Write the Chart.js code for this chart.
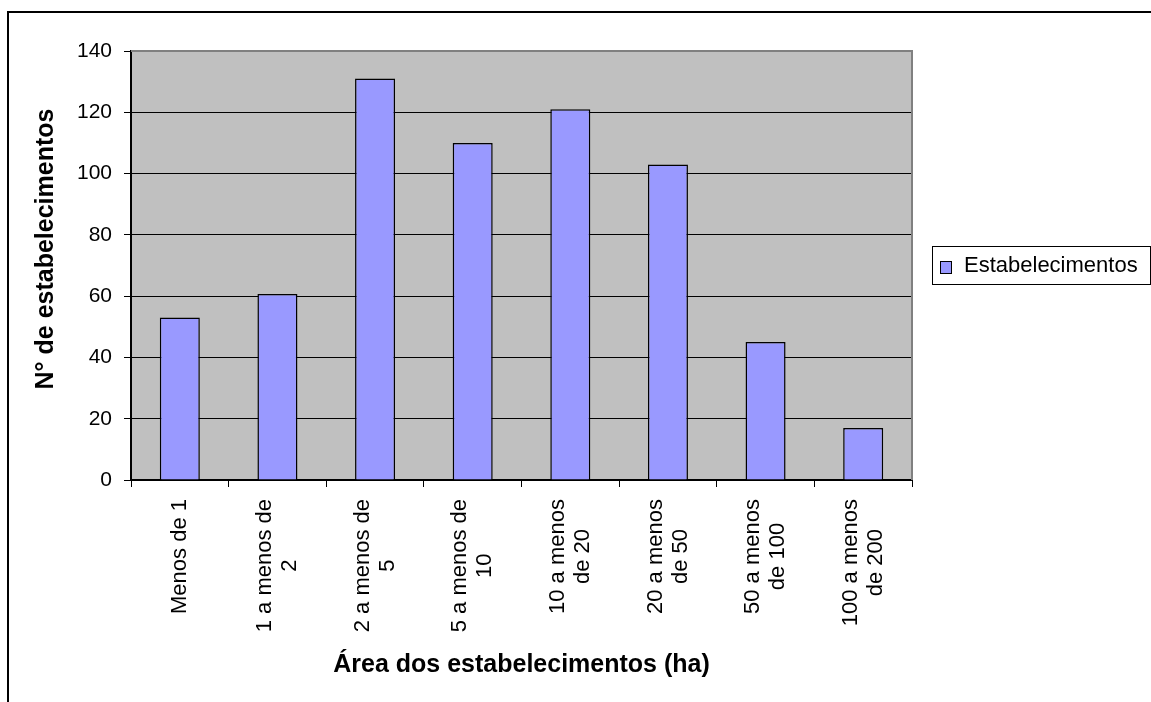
<!DOCTYPE html>
<html>
<head>
<meta charset="utf-8">
<script src="https://cdn.jsdelivr.net/npm/chart.js@4/dist/chart.umd.min.js"></script>
<style>
  html, body { margin: 0; padding: 0; background: #fff; }
  #wrap { position: relative; width: 1151px; height: 702px; }
</style>
</head>
<body>
<div id="wrap"><canvas id="c"></canvas></div>
<script>
const categories = [
  ["Menos de 1"],
  ["1 a menos de", "2"],
  ["2 a menos de", "5"],
  ["5 a menos de", "10"],
  ["10 a menos", "de 20"],
  ["20 a menos", "de 50"],
  ["50 a menos", "de 100"],
  ["100 a menos", "de 200"]
];
const seriesName = "Estabelecimentos";
const values = [53, 60.7, 131, 110, 121, 103, 45, 17];
const yTicks = [0, 20, 40, 60, 80, 100, 120, 140];
const xTitle = "Área dos estabelecimentos (ha)";
const yTitle = "N° de estabelecimentos";

const FONT = "'Liberation Sans', Arial, sans-serif";
const TICK_SIZE = 21;
const XLABEL_SIZE = 22;
const TITLE_SIZE = 25;

const decor = {
  id: 'decor',
  beforeDraw(chart) {
    const {ctx, chartArea: a} = chart;
    ctx.save();
    ctx.fillStyle = '#C0C0C0';
    ctx.fillRect(a.left, a.top, a.right - a.left, a.bottom - a.top);
    ctx.restore();
  },
  beforeDatasetsDraw(chart) {
    const {ctx, chartArea: a} = chart;
    ctx.save();
    ctx.strokeStyle = '#808080';
    ctx.lineWidth = 2;
    ctx.beginPath();
    ctx.moveTo(a.left, a.top);
    ctx.lineTo(a.right, a.top);
    ctx.lineTo(a.right, a.bottom);
    ctx.stroke();
    ctx.restore();
  },
  afterDraw(chart) {
    const {ctx} = chart;
    const xs = chart.scales.x;
    // x tick labels: rotated, lines centred on each other
    ctx.save();
    ctx.font = XLABEL_SIZE + 'px ' + FONT;
    ctx.fillStyle = '#000';
    ctx.textAlign = 'center';
    ctx.textBaseline = 'middle';
    const lineH = 25;
    const topY = 499;
    chart.data.labels.forEach((lines, i) => {
      const px = xs.getPixelForValue(i);
      const maxW = Math.max(...lines.map(l => ctx.measureText(l).width));
      ctx.save();
      ctx.translate(px, topY);
      ctx.rotate(-Math.PI / 2);
      lines.forEach((l, j) => {
        ctx.fillText(l, -maxW / 2, (j - (lines.length - 1) / 2) * lineH);
      });
      ctx.restore();
    });
    ctx.restore();

    // y axis title
    ctx.save();
    ctx.font = 'bold ' + TITLE_SIZE + 'px ' + FONT;
    ctx.fillStyle = '#000';
    ctx.textAlign = 'center';
    ctx.textBaseline = 'middle';
    ctx.translate(46, 249);
    ctx.rotate(-Math.PI / 2);
    ctx.fillText(yTitle, 0, 0);
    ctx.restore();

    // legend
    const ds = chart.data.datasets[0];
    ctx.save();
    ctx.fillStyle = '#fff';
    ctx.fillRect(932, 246, 218, 38);
    ctx.strokeStyle = '#000';
    ctx.lineWidth = 1;
    ctx.strokeRect(932.5, 246.5, 218, 38);
    ctx.fillStyle = ds.backgroundColor;
    ctx.fillRect(940, 261, 11, 12);
    ctx.strokeRect(940.5, 261.5, 11, 12);
    ctx.fillStyle = '#000';
    ctx.font = '22px ' + FONT;
    ctx.textBaseline = 'middle';
    ctx.textAlign = 'left';
    ctx.fillText(ds.label, 964, 266);
    ctx.restore();

    // outer frame
    ctx.save();
    ctx.strokeStyle = '#000';
    ctx.lineWidth = 2;
    ctx.beginPath();
    ctx.moveTo(8, 702);
    ctx.lineTo(8, 12);
    ctx.lineTo(1151, 12);
    ctx.stroke();
    ctx.restore();
  }
};

new Chart(document.getElementById('c'), {
  type: 'bar',
  data: {
    labels: categories,
    datasets: [{
      label: seriesName,
      data: values,
      backgroundColor: '#9999FF',
      borderColor: '#000',
      borderWidth: 1.5,
      barPercentage: 0.41,
      categoryPercentage: 1.0
    }]
  },
  options: {
    responsive: true,
    maintainAspectRatio: false,
    animation: false,
    devicePixelRatio: 1,
    layout: { padding: { top: 51, right: 239, bottom: 0, left: 0 } },
    plugins: { legend: { display: false }, tooltip: { enabled: false } },
    scales: {
      x: {
        offset: true,
        grid: { offset: true, drawOnChartArea: false, drawTicks: true, tickLength: 7, color: '#000', lineWidth: 1 },
        border: { display: true, color: '#000', width: 2 },
        ticks: { color: 'rgba(0,0,0,0)', minRotation: 90, maxRotation: 90, font: { size: XLABEL_SIZE, family: FONT } },
        title: { display: true, text: xTitle, color: '#000', font: { size: TITLE_SIZE, weight: 'bold', family: FONT }, padding: { top: 0, bottom: 22 } },
        afterFit(s) { s.height = 702 - 480; }
      },
      y: {
        min: 0, max: 140,
        afterBuildTicks(s) { s.ticks = yTicks.map(v => ({ value: v })); },
        grid: { color: '#000', lineWidth: 1, tickLength: 7, drawTicks: true },
        border: { display: true, color: '#000', width: 2 },
        ticks: { color: '#000', padding: 12, font: { size: TICK_SIZE, family: FONT } },
        title: { display: false },
        afterFit(s) { s.width = 131; }
      }
    }
  },
  plugins: [decor]
});
</script>
</body>
</html>
